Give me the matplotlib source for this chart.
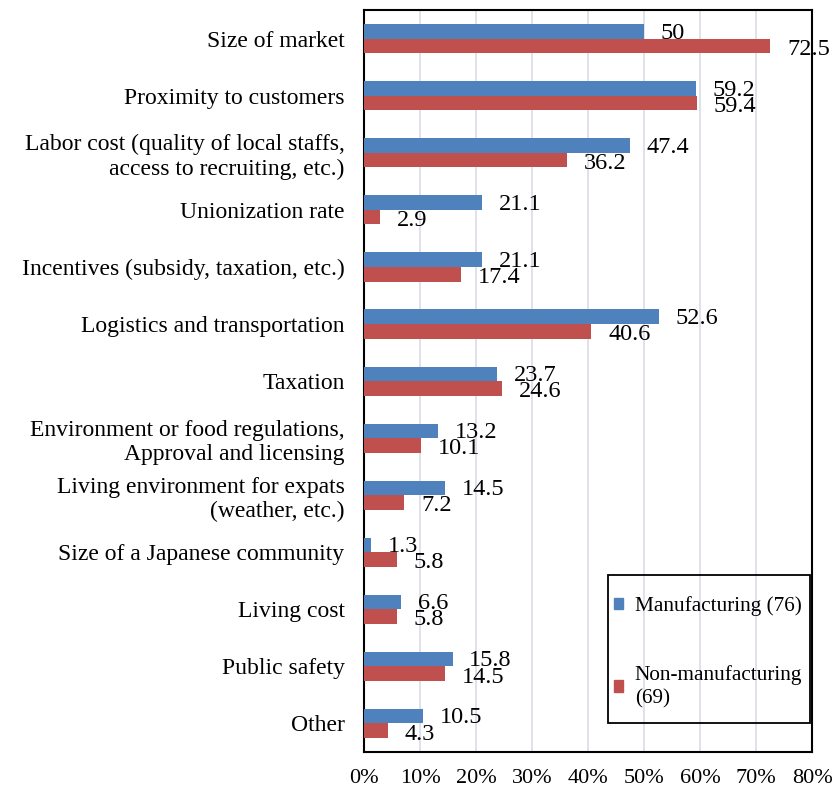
import numpy as np
import matplotlib
matplotlib.use("Agg")
import matplotlib.pyplot as plt
from matplotlib.patches import Patch, Rectangle

plt.rcParams['font.family'] = ['Liberation Serif', 'DejaVu Serif']

# ---------- data ----------
categories = [
    "Size of market",
    "Proximity to customers",
    "Labor cost (quality of local staffs,\naccess to recruiting, etc.)",
    "Unionization rate",
    "Incentives (subsidy, taxation, etc.)",
    "Logistics and transportation",
    "Taxation",
    "Environment or food regulations,\nApproval and licensing",
    "Living environment for expats\n(weather, etc.)",
    "Size of a Japanese community",
    "Living cost",
    "Public safety",
    "Other",
]
manufacturing = [50, 59.2, 47.4, 21.1, 21.1, 52.6, 23.7, 13.2, 14.5, 1.3, 6.6, 15.8, 10.5]
non_manufacturing = [72.5, 59.4, 36.2, 2.9, 17.4, 40.6, 24.6, 10.1, 7.2, 5.8, 5.8, 14.5, 4.3]
series_names = ["Manufacturing (76)", "Non-manufacturing\n(69)"]
xticks = [0, 10, 20, 30, 40, 50, 60, 70, 80]

blue = "#4f81bd"
red = "#c0504d"

fig = plt.figure(figsize=(8.33, 7.89), dpi=100)
ax = fig.add_axes([0.437, 0.047, 0.538, 0.940])

y = np.arange(len(categories))
h = 0.255
ax.barh(y - h / 2, manufacturing, height=h, color=blue, zorder=3)
ax.barh(y + h / 2, non_manufacturing, height=h, color=red, zorder=3)

# ---------- value labels ----------
for i in range(len(categories)):
    ax.text(manufacturing[i] + 3.0, y[i] - h / 2 + 0.03, f"{manufacturing[i]:g}",
            va="center", ha="left", fontsize=17.5, zorder=5, clip_on=False)
    ax.text(non_manufacturing[i] + 3.0, y[i] + h / 2 + 0.06, f"{non_manufacturing[i]:g}",
            va="center", ha="left", fontsize=17.5, zorder=5, clip_on=False)

ax.set_ylim(len(categories) - 0.5, -0.5)
ax.set_yticks(y)
ax.set_yticklabels(categories, fontsize=17, linespacing=1.2)
ax.set_xlim(0, 80)
ax.set_xticks(xticks)
ax.set_xticklabels([f"{t}%" for t in xticks], fontsize=16)
ax.tick_params(axis="both", length=0)
ax.tick_params(axis="x", pad=12)
ax.tick_params(axis="y", pad=14)

ax.grid(axis="x", color="#d9dde6", linewidth=1.2, zorder=0)
for s in ax.spines.values():
    s.set_color("black")
    s.set_linewidth(1.5)

# ---------- legend ----------
ax.add_patch(Rectangle((0.545, 0.039), 0.45, 0.1995, transform=ax.transAxes,
                       fill=False, edgecolor="black", linewidth=1.3, zorder=6))
handles = [Patch(color=blue), Patch(color=red)]
leg = ax.legend(handles, series_names, loc="upper left",
                bbox_to_anchor=(0.557, 0.210), fontsize=15.3,
                handlelength=0.45, handleheight=0.45, handletextpad=0.55,
                labelspacing=2.3, borderpad=0.0, frameon=False, borderaxespad=0)
for t in leg.get_texts():
    t.set_linespacing(1.3)
leg.set_zorder(7)

fig.savefig("out.png", dpi=100)
